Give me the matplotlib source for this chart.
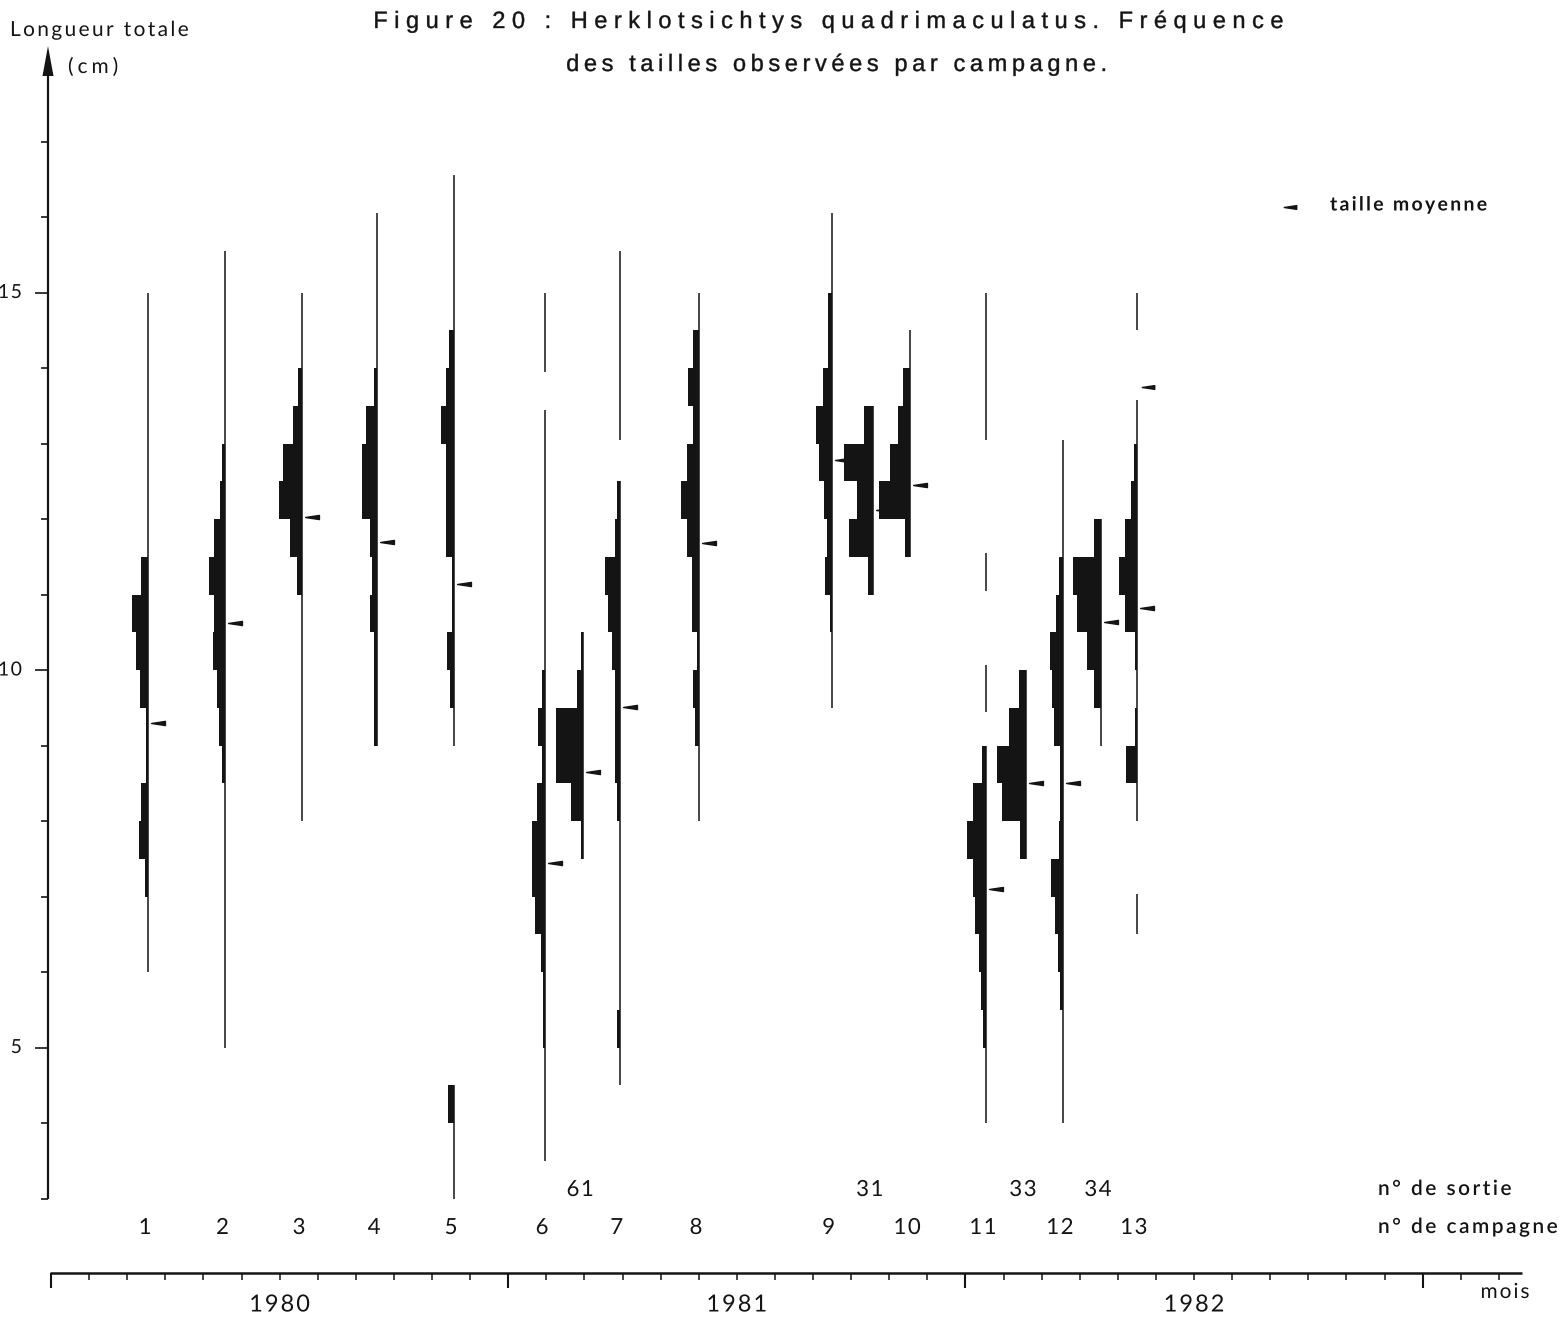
import matplotlib
matplotlib.use("Agg")
import matplotlib.pyplot as plt
from matplotlib.path import Path
from matplotlib.patheffects import AbstractPathEffect
from matplotlib.textpath import text_to_path
import numpy as np

# ---------------- data ----------------
hist_labels = ['1', '2', '3', '4', '5', '6', '61', '7', '8', '9', '31', '10', '11', '33', '12', '34', '13']
hist_is_sortie = [False, False, False, False, False, False, True, False, False,
                  False, True, False, False, True, False, True, False]
# date of each sample, months since January 1980
hist_month = [2.55, 4.58, 6.59, 8.56, 10.58, 12.97, 13.97, 14.93, 17.01,
              20.49, 21.57, 22.55, 24.54, 25.59, 26.56, 27.56, 28.50]
# lower edge (cm) of the first 0.5 cm class of each histogram
hist_first_class = [7.0, 8.5, 11.0, 9.0, 4.0, 5.0, 7.5, 5.0, 9.0,
                    10.5, 11.0, 11.5, 5.0, 7.5, 5.5, 9.5, 8.5]

# relative frequencies per 0.5 cm class (from the lowest class upwards)
freq_1 = [3.3, 9, 6.7, 2, 2, 7.7, 11.7, 16.3, 6.7]
freq_2 = [3.7, 6.7, 8.7, 12.7, 11, 16, 11, 5, 3]
freq_3 = [5, 12.5, 23, 19, 9, 4]
freq_4 = [3.5, 3.5, 3.5, 7, 5, 7, 15, 15, 11, 3.5]
freq_5 = [6, 0, 0, 0, 0, 0, 0, 0, 0, 0, 0, 4, 7, 2, 2, 8, 8, 8, 13.5, 8.5, 5]
freq_6 = [2.3, 2.3, 4, 10.3, 12.7, 12.7, 8.3, 3.3, 6.7, 3.3]
freq_61 = [2.7, 12.7, 27.7, 27.7, 6, 2.7]
freq_7 = [2.7, 0, 0, 0, 0, 0, 2.7, 5, 5, 5, 8.3, 11.7, 15.3, 5, 3.3]
freq_8 = [3.7, 6.3, 2.3, 6.7, 6.7, 11.7, 18.3, 11.7, 6.3, 10.7, 6.3]
freq_9 = [1.7, 6.7, 5, 7.3, 12.7, 15.7, 8.3, 3.3, 3.3]
freq_31 = [5.3, 24.3, 16, 29.3, 9.3]
freq_10 = [5, 31, 20, 11.7, 7.3, 0]
freq_11 = [3.3, 5, 6.7, 11, 13.3, 18.7, 12.7, 3.7]
freq_33 = [6, 24.3, 28.7, 16.7, 7]
freq_12 = [2.7, 5, 8.3, 11.7, 4, 3.3, 3.3, 9.3, 10.7, 12.7, 6.7, 4]
freq_34 = [7, 13.7, 23.7, 28.3, 7]
freq_13 = [11.3, 2.3, 0, 2.3, 12.3, 18.3, 11.7, 5.7, 3.3]
hist_freq = [freq_1, freq_2, freq_3, freq_4, freq_5, freq_6, freq_61, freq_7, freq_8,
             freq_9, freq_31, freq_10, freq_11, freq_33, freq_12, freq_34, freq_13]

# observed length ranges (cm) drawn as thin lines
range_1 = [(6.0, 15.0)]
range_2 = [(5.0, 15.55)]
range_3 = [(8.0, 15.0)]
range_4 = [(9.0, 16.05)]
range_5 = [(3.0, 4.5), (9.0, 16.55)]
range_6 = [(3.5, 13.45), (13.95, 15.0)]
range_61 = [(7.5, 10.5)]
range_7 = [(4.5, 12.5), (13.05, 15.55)]
range_8 = [(8.0, 15.0)]
range_9 = [(9.5, 16.05)]
range_31 = [(11.0, 13.5)]
range_10 = [(11.5, 14.5)]
range_11 = [(4.0, 9.0), (9.45, 10.07), (11.05, 11.55), (13.05, 15.0)]
range_33 = [(7.5, 10.0)]
range_12 = [(4.0, 13.05)]
range_34 = [(9.0, 12.0)]
range_13 = [(6.5, 7.03), (8.0, 13.57), (14.5, 15.0)]
hist_range = [range_1, range_2, range_3, range_4, range_5, range_6, range_61, range_7, range_8,
              range_9, range_31, range_10, range_11, range_33, range_12, range_34, range_13]

# mean length (cm)
mean_length = [9.3, 10.62, 12.02, 11.7, 11.14, 7.45, 8.65, 9.51, 11.68,
               12.78, 12.12, 12.45, 7.1, 8.5, 8.5, 10.64, 10.82]
extra_mean_13 = 13.75

year_labels = ['1980', '1981', '1982']
year_mid_month = [6, 18, 30]
n_months = 39
ytick_values = list(range(3, 18))
ytick_labelled = [5, 10, 15]

# ---------------- layout ----------------
W, H, DPI = 1562, 1318, 100
PX_PER_MONTH = 38.1
PX_PER_CM = 75.5
X0_PX = 51.0
Y10_PX = 670.0
BIN = 0.5
FREQ_SCALE = 1.0 / PX_PER_MONTH
INK = '#141414'
LABEL_FONT = ['Lato', 'DejaVu Sans']
TITLE_FONT = ['Liberation Sans', 'DejaVu Sans']


def mx(px):
    return (px - X0_PX) / PX_PER_MONTH


def cy(py):
    return 10 - (py - Y10_PX) / PX_PER_CM


class Tracked(AbstractPathEffect):
    """Draws the text glyphs with extra letter spacing (tracking)."""

    def __init__(self, s, prop, track_px, align, stroke=0.0):
        super().__init__()
        self.n = len(s)
        self.track_px = track_px
        self.align = align
        self.stroke = stroke
        ink = []
        last = -np.inf
        for i in range(1, len(s) + 1):
            v, c = text_to_path.get_text_path(prop, s[:i])
            v = np.asarray(v, dtype=float)
            c = np.asarray(c)
            if len(v):
                m = v[c != Path.CLOSEPOLY][:, 0].max()
                last = max(last, m)
            ink.append(last)
        self.ink = np.array(ink)

    def draw_path(self, renderer, gc, tpath, affine, rgbFace=None):
        verts = np.array(tpath.vertices, dtype=float)
        codes = tpath.codes
        if codes is None or len(verts) == 0:
            renderer.draw_path(gc, tpath, affine, rgbFace)
            return
        codes = np.asarray(codes)
        mtx = affine.get_matrix()
        scale = np.hypot(mtx[0, 0], mtx[1, 0])
        t = self.track_px / scale
        total = (self.n - 1) * t
        base = {'left': 0.0, 'center': -total / 2, 'right': -total}[self.align]
        starts = np.where(codes == Path.MOVETO)[0]
        ends = list(starts[1:]) + [len(codes)]
        for a, b in zip(starts, ends):
            sel = codes[a:b] != Path.CLOSEPOLY
            seg = verts[a:b][sel]
            cx = 0.5 * (seg[:, 0].min() + seg[:, 0].max())
            idx = int(np.searchsorted(self.ink, cx - 1e-6))
            idx = min(idx, self.n - 1)
            verts[a:b, 0] += base + idx * t
        new_path = Path(verts, codes)
        gc0 = renderer.new_gc()
        gc0.copy_properties(gc)
        if self.stroke > 0:
            gc0.set_linewidth(self.stroke)
            gc0.set_foreground(rgbFace)
        renderer.draw_path(gc0, new_path, affine, rgbFace)
        gc0.restore()


def tracked_text(ax, x, y, s, track_px, ha='left', stroke=0.0, **kw):
    txt = ax.text(x, y, s, ha=ha, **kw)
    prop = txt.get_fontproperties()
    txt.set_path_effects([Tracked(s, prop, track_px, ha, stroke)])
    return txt


fig = plt.figure(figsize=(W / DPI, H / DPI), dpi=DPI)
fig.patch.set_facecolor('white')
ax = fig.add_axes([0, 0, 1, 1])
ax.set_xlim(mx(0), mx(W))
ax.set_ylim(cy(H), cy(0))
ax.axis('off')

# left-pointing mean marker
arrow_marker = Path([(-1, 0), (1, 0.3), (1, -0.3), (-1, 0)],
                    [Path.MOVETO, Path.LINETO, Path.LINETO, Path.CLOSEPOLY])
ARROW_OFF = 10 / PX_PER_MONTH

for lab, xm, b0, fr, segs, mu in zip(hist_labels, hist_month, hist_first_class,
                                      hist_freq, hist_range, mean_length):
    lows = b0 + BIN * np.arange(len(fr))
    widths = np.array(fr, dtype=float) * FREQ_SCALE
    ax.barh(lows, -widths, height=BIN, left=xm, align='edge', color=INK, linewidth=0)
    for lo, hi in segs:
        ax.vlines(xm, lo, hi, color=INK, lw=1.1)
    ax.plot([xm + ARROW_OFF], [mu], marker=arrow_marker, ms=10, color=INK, ls='none')

ax.plot([hist_month[-1] + ARROW_OFF + 1 / PX_PER_MONTH], [extra_mean_13],
        marker=arrow_marker, ms=9, color=INK, ls='none')

# sample numbers
for lab, xm, s in zip(hist_labels, hist_month, hist_is_sortie):
    tracked_text(ax, xm - 0.08, cy(1190) if s else cy(1228), lab, 1.5, ha='center',
                 va='center', fontsize=16, family=LABEL_FONT, color=INK)

# vertical axis with arrow
x_ax = mx(48)
ax.vlines(x_ax, 3.0, cy(70), color=INK, lw=1.6)
ax.fill([x_ax, x_ax - 5.5 / PX_PER_MONTH, x_ax + 5.5 / PX_PER_MONTH],
        [cy(46), cy(76), cy(76)], color=INK, lw=0)
for v in ytick_values:
    L = 13 if v in ytick_labelled else 7
    ax.hlines(v, x_ax - L / PX_PER_MONTH, x_ax, color=INK, lw=1.2)
for v in ytick_labelled:
    tracked_text(ax, mx(22), v, str(v), 1.5, ha='right', va='center', fontsize=14,
                 family=LABEL_FONT, color=INK)

# time axis
t_y = cy(1273)
ax.hlines(t_y, mx(50), mx(1522), color=INK, lw=1.8)
months = np.arange(n_months)
for m in months:
    L = 15 if m % 12 == 0 else 7
    ax.vlines(m, t_y - L / PX_PER_CM, t_y, color=INK, lw=1.5 if m % 12 == 0 else 1.1)
for lab, m in zip(year_labels, year_mid_month):
    tracked_text(ax, m, cy(1305), lab, 2.0, ha='center', va='center', fontsize=17,
                 family=LABEL_FONT, color=INK)
tracked_text(ax, mx(1505), cy(1292), 'mois', 2.0, ha='center', va='center', fontsize=15,
             family=LABEL_FONT, color=INK)

# right-hand captions
tracked_text(ax, mx(1378), cy(1189), 'n° de sortie', 2.5, ha='left', va='center',
             fontsize=15, family=LABEL_FONT, fontweight='semibold', color=INK)
tracked_text(ax, mx(1378), cy(1227), 'n° de campagne', 2.5, ha='left', va='center',
             fontsize=15, family=LABEL_FONT, fontweight='semibold', color=INK)

# legend
ax.plot([mx(1290)], [cy(207)], marker=arrow_marker, ms=9, color=INK, ls='none')
tracked_text(ax, mx(1330), cy(205), 'taille moyenne', 2.3, ha='left', va='center',
             fontsize=14, family=LABEL_FONT, fontweight='bold', color=INK)

# axis title
tracked_text(ax, mx(10), cy(30), 'Longueur totale', 2.4, ha='left', va='center',
             fontsize=15, family=LABEL_FONT, color=INK)
tracked_text(ax, mx(68), cy(67), '(cm)', 4.0, ha='left', va='center', fontsize=15,
             family=LABEL_FONT, color=INK)

# figure title
tracked_text(ax, mx(829), cy(22), 'Figure 20 : Herklotsichtys quadrimaculatus. Fréquence',
             6.5, ha='center', stroke=0.3, va='center', fontsize=17, family=TITLE_FONT,
             color=INK)
tracked_text(ax, mx(837), cy(65), 'des tailles observées par campagne.',
             4.6, ha='center', stroke=0.3, va='center', fontsize=17, family=TITLE_FONT,
             color=INK)

fig.savefig('out.png', dpi=DPI, facecolor='white')
